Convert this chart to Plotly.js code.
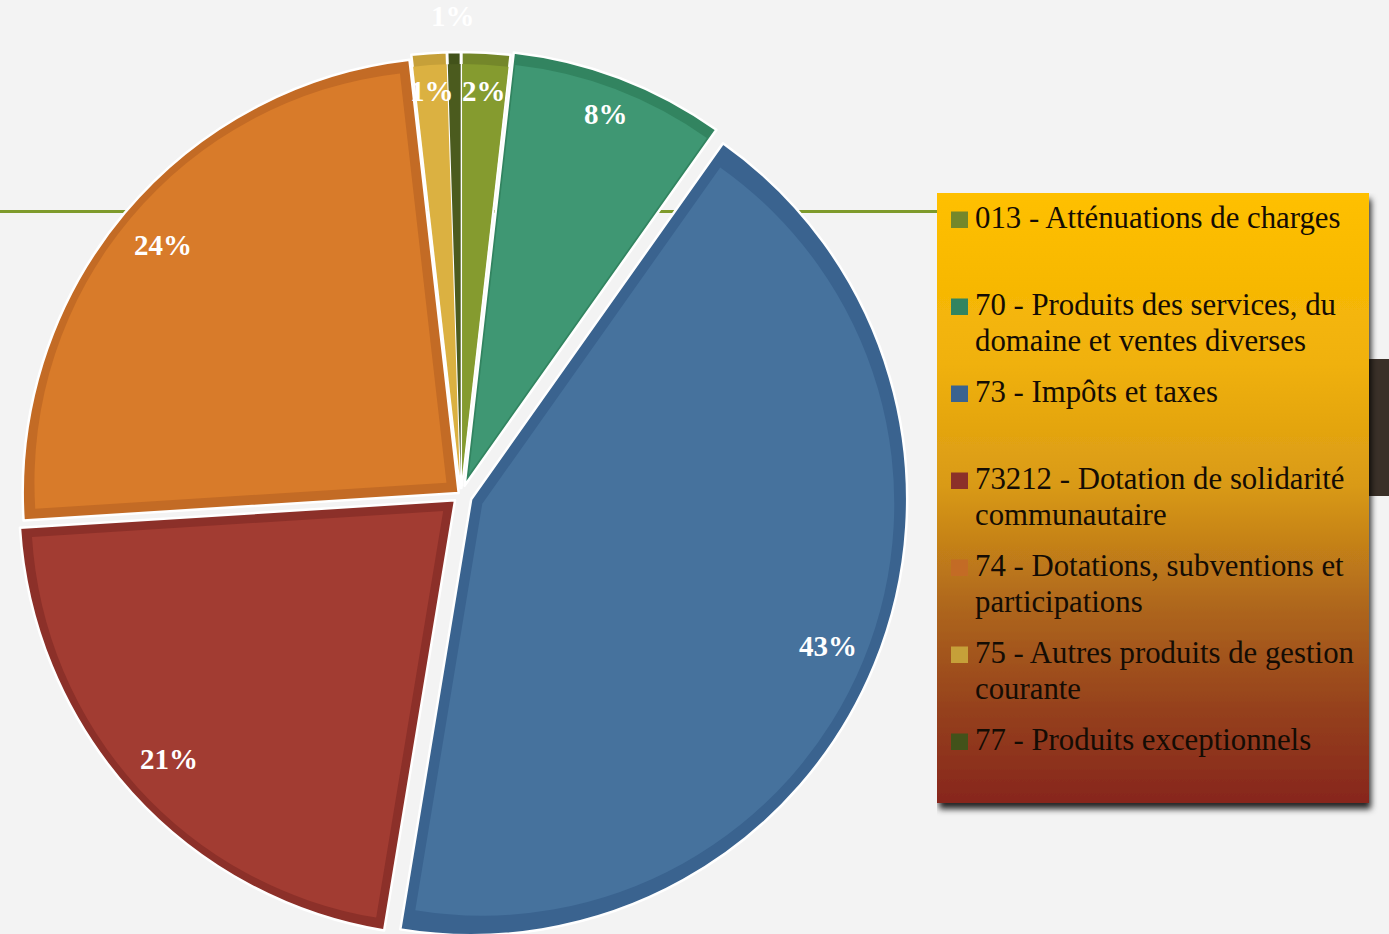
<!DOCTYPE html>
<html>
<head>
<meta charset="utf-8">
<script src="https://cdn.plot.ly/plotly-3.0.1.min.js"></script>
<style>
html,body{margin:0;padding:0;overflow:hidden;background:#F3F3F3;}
#chart{width:1389px;height:960px;}
</style>
</head>
<body>
<div id="chart"></div>
<script>
// ---- DATA ----
const categories = [
  '013 - Atténuations de charges',
  '70 - Produits des services, du<br>domaine et ventes diverses',
  '73 - Impôts et taxes',
  '73212 - Dotation de solidarité<br>communautaire',
  '74 - Dotations, subventions et<br>participations',
  '75 - Autres produits de gestion<br>courante',
  '77 - Produits exceptionnels'
];
const shares = [1.8, 8.0, 42.8, 21.4, 24.2, 1.3, 0.5];
const percentLabels = ['2%', '8%', '43%', '21%', '24%', '1%', '1%'];

// ---- STYLE ----
const fillColors  = ['#859B2F', '#3F9773', '#46729D', '#A23C32', '#D87B2A', '#DBB141', '#4B5B1E'];
const bevelColors = ['#74872A', '#328460', '#3A638F', '#8C3029', '#C36B25', '#C6A039', '#42521A'];
const pullPx      = [7, 10, 11, 8, 3, 7, 7];
const bevelShift  = [12, 12, 12, 16, 16, 12, 12];

const W = 1389, H = 960;
const cx = 461, cy = 495, R = 436;
const bevelDepth = 24;
const serif = '"Liberation Serif", "Times New Roman", serif';

function domainFor(radius, maxPx) {
  const half = radius + maxPx;
  return {
    x: [(cx - half) / W, (cx + half) / W],
    y: [1 - (cy + half) / H, 1 - (cy - half) / H]
  };
}

const fullLabels = categories.map(c => c.replace('<br>', ' '));
const maxPull1 = Math.max(...pullPx);
const R2 = R - bevelDepth;
const pull2Px = pullPx.map((p, i) => p + bevelShift[i]);
const maxPull2 = Math.max(...pull2Px);

const traceBevel = {
  type: 'pie',
  values: shares,
  labels: fullLabels,
  sort: false,
  direction: 'clockwise',
  rotation: 0,
  marker: {colors: bevelColors, line: {color: '#FFFFFF', width: 2.5}},
  pull: pullPx.map(p => p / R),
  domain: domainFor(R, maxPull1),
  textinfo: 'none',
  hoverinfo: 'label+percent',
  showlegend: false
};
const traceFill = {
  type: 'pie',
  values: shares,
  labels: fullLabels,
  sort: false,
  direction: 'clockwise',
  rotation: 0,
  marker: {colors: fillColors, line: {color: 'rgba(0,0,0,0)', width: 0}},
  pull: pull2Px.map(p => p / R2),
  domain: domainFor(R2, maxPull2),
  textinfo: 'none',
  hoverinfo: 'skip',
  showlegend: false
};

// ---- slice labels (placed from the pie geometry) ----
const total = shares.reduce((a, b) => a + b, 0);
const annotations = [];
let cum = 0;
shares.forEach((v, i) => {
  const frac = v / total;
  const mid = (cum + v / 2) / total;
  cum += v;
  const th = 2 * Math.PI * mid;
  const sx = Math.sin(th), sy = -Math.cos(th);
  const pcx = cx + pullPx[i] * sx, pcy = cy + pullPx[i] * sy;
  let lr;
  if (frac < 0.008) lr = R + 36;
  else if (frac < 0.1) lr = R * 0.912;
  else lr = R * 0.885;
  const px = pcx + lr * sx, py = pcy + lr * sy;
  annotations.push({
    xref: 'paper', yref: 'paper', x: px / W, y: 1 - py / H,
    xanchor: 'center', yanchor: 'middle', showarrow: false,
    text: '<b>' + percentLabels[i] + '</b>',
    font: {family: serif, size: 29, color: '#FFFFFF'}
  });
});

// ---- legend (text + swatches) ----
const legFont = 30.8;
const legTop = 228, legStep = 87, legLine = 36;
const shapes = [
  {type: 'line', xref: 'paper', yref: 'paper', x0: 0, x1: 937 / W, y0: 1 - 211.5 / H, y1: 1 - 211.5 / H,
   line: {color: '#7E9A2B', width: 3}, layer: 'below'},
  {type: 'rect', xref: 'paper', yref: 'paper', x0: 1364 / W, x1: 1, y0: 1 - 496 / H, y1: 1 - 359 / H,
   fillcolor: '#3A3028', line: {width: 0}, layer: 'below'}
];
categories.forEach((c, i) => {
  const base = legTop + legStep * i;
  c.split('<br>').forEach((line, j) => {
    const b = base + legLine * j;
    annotations.push({
      xref: 'paper', yref: 'paper', x: 973 / W, y: 1 - (b - 0.3375 * legFont) / H,
      xanchor: 'left', yanchor: 'middle', showarrow: false,
      text: line, font: {family: serif, size: legFont, color: '#140C04'}
    });
  });
  shapes.push({
    type: 'rect', xref: 'paper', yref: 'paper',
    x0: 951 / W, x1: 968 / W, y0: 1 - base / H, y1: 1 - (base - 16.5) / H,
    fillcolor: bevelColors[i], line: {width: 0}, layer: 'above'
  });
});

const boxSvg =
  "<svg xmlns='http://www.w3.org/2000/svg' width='452' height='632' viewBox='0 0 452 632'>" +
  "<defs><linearGradient id='g' x1='0' y1='0' x2='0' y2='1'>" +
  "<stop offset='0' stop-color='#FFC000'/>" +
  "<stop offset='0.28' stop-color='#F0B10A'/>" +
  "<stop offset='0.48' stop-color='#D99A16'/>" +
  "<stop offset='0.68' stop-color='#AE661C'/>" +
  "<stop offset='0.85' stop-color='#95401F'/>" +
  "<stop offset='1' stop-color='#87261F'/>" +
  "</linearGradient>" +
  "<filter id='s' x='-5%' y='-5%' width='115%' height='115%'>" +
  "<feDropShadow dx='2' dy='6' stdDeviation='3' flood-color='#000' flood-opacity='0.85'/></filter></defs>" +
  "<rect x='0' y='0' width='432' height='610' fill='url(#g)' filter='url(#s)'/></svg>";

const layout = {
  width: W, height: H,
  margin: {l: 0, r: 0, t: 0, b: 0},
  paper_bgcolor: '#F3F3F3',
  plot_bgcolor: '#F3F3F3',
  showlegend: false,
  shapes: shapes,
  annotations: annotations,
  images: [{
    source: 'data:image/svg+xml;charset=utf-8,' + encodeURIComponent(boxSvg),
    xref: 'paper', yref: 'paper',
    x: 937 / W, y: 1 - 193 / H,
    sizex: 452 / W, sizey: 632 / H,
    xanchor: 'left', yanchor: 'top',
    sizing: 'stretch', layer: 'above'
  }]
};

Plotly.newPlot('chart', [traceBevel, traceFill], layout, {displayModeBar: false});
</script>
</body>
</html>
